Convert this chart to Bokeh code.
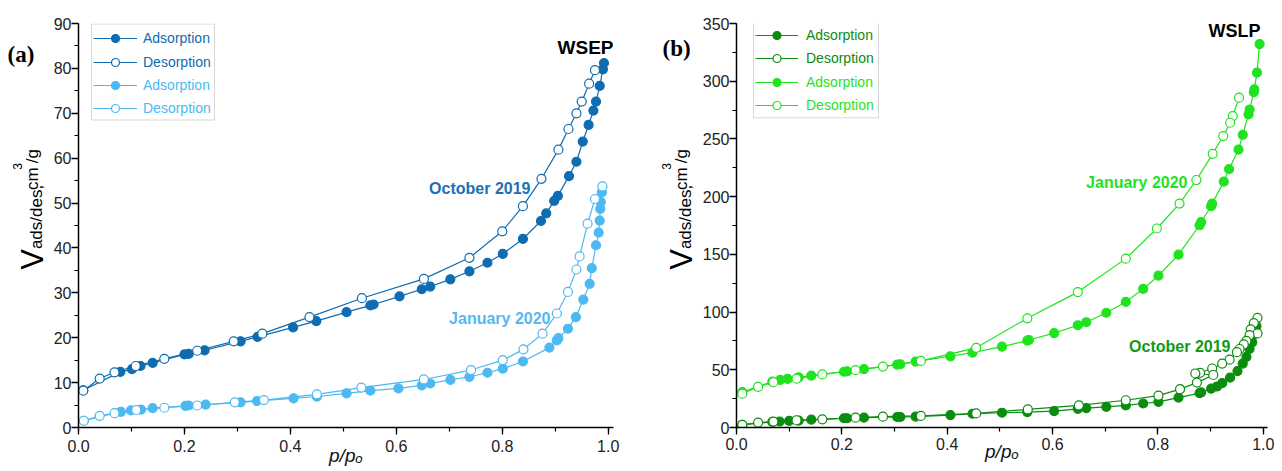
from math import pi
from bokeh.plotting import figure
from bokeh.models import (Range1d, SingleIntervalTicker, PrintfTickFormatter, Label,
                          Legend, LegendItem, BoxAnnotation)
from bokeh.core.properties import value
from bokeh.layouts import row
from bokeh.embed import file_html
from bokeh.resources import INLINE

FONT = "Liberation Sans"

# ---------------- data: panel (a) WSEP ----------------
a_oct_ads_p = [0.009, 0.079, 0.101, 0.117, 0.140, 0.200, 0.208, 0.238, 0.306, 0.338, 0.405, 0.449,
               0.506, 0.551, 0.557, 0.606, 0.648, 0.664, 0.702, 0.738, 0.772, 0.801, 0.839, 0.873,
               0.883, 0.898, 0.905, 0.926, 0.940, 0.952, 0.963, 0.972, 0.977, 0.984, 0.990, 0.992]
a_oct_ads_v = [8.3, 12.4, 13.0, 13.7, 14.4, 16.3, 16.4, 17.2, 19.2, 20.2, 22.3, 23.7,
               25.7, 27.2, 27.4, 29.2, 30.8, 31.4, 33.0, 34.8, 36.7, 38.7, 42.0, 46.0,
               47.7, 50.5, 51.6, 56.0, 59.2, 63.7, 67.4, 70.6, 72.6, 76.1, 79.8, 81.2]
a_oct_des_p = [0.975, 0.964, 0.950, 0.940, 0.925, 0.906, 0.874, 0.839, 0.800, 0.738, 0.652,
               0.535, 0.436, 0.347, 0.293, 0.224, 0.162, 0.108, 0.068, 0.040, 0.009]
a_oct_des_v = [79.6, 76.6, 72.6, 70.0, 66.5, 61.9, 55.4, 49.3, 43.7, 37.8, 33.1,
               28.8, 24.6, 20.9, 19.2, 17.1, 15.3, 13.7, 12.3, 10.9, 8.2]
a_jan_ads_p = [0.010, 0.080, 0.099, 0.118, 0.140, 0.202, 0.208, 0.240, 0.306, 0.337, 0.406, 0.450,
               0.506, 0.551, 0.604, 0.648, 0.664, 0.702, 0.738, 0.772, 0.801, 0.839, 0.889, 0.903,
               0.906, 0.924, 0.939, 0.953, 0.965, 0.969, 0.977, 0.982, 0.984, 0.985, 0.986, 0.988]
a_jan_ads_v = [1.5, 3.5, 3.8, 4.0, 4.3, 4.8, 4.9, 5.1, 5.6, 5.9, 6.5, 6.9,
               7.6, 8.2, 8.7, 9.4, 9.8, 10.6, 11.3, 12.2, 13.1, 14.7, 17.8, 19.4,
               19.9, 22.0, 24.6, 28.5, 32.0, 35.5, 40.6, 43.4, 46.1, 48.7, 50.2, 52.4]
a_jan_des_p = [0.989, 0.975, 0.961, 0.946, 0.940, 0.924, 0.903, 0.876, 0.840, 0.801, 0.741,
               0.652, 0.534, 0.450, 0.350, 0.295, 0.224, 0.162, 0.109, 0.068, 0.040, 0.010]
a_jan_des_v = [53.7, 50.9, 45.4, 38.1, 35.2, 30.2, 25.4, 20.9, 17.4, 15.0, 12.8,
               10.7, 8.9, 7.4, 6.1, 5.6, 4.9, 4.4, 3.9, 3.2, 2.6, 1.5]

# ---------------- data: panel (b) WSLP ----------------
b_jan_ads_p = [0.011, 0.068, 0.083, 0.097, 0.118, 0.142, 0.204, 0.210, 0.242, 0.305, 0.311, 0.340,
               0.406, 0.448, 0.504, 0.552, 0.555, 0.603, 0.648, 0.664, 0.702, 0.739, 0.772, 0.801,
               0.839, 0.879, 0.882, 0.901, 0.903, 0.925, 0.935, 0.953, 0.961, 0.972, 0.974, 0.982,
               0.983, 0.988, 0.993]
b_jan_ads_v = [30.7, 39.8, 41.2, 42.1, 43.5, 44.9, 48.3, 48.6, 50.6, 54.5, 54.8, 57.1,
               61.7, 64.8, 70.0, 75.3, 75.8, 81.8, 88.6, 91.2, 99.4, 108.8, 120.1, 131.5,
               149.7, 175.2, 178.0, 191.7, 194.0, 213.0, 223.8, 240.8, 253.6, 271.2, 275.5, 290.5,
               293.0, 307.5, 332.2]
b_jan_des_p = [0.954, 0.942, 0.937, 0.924, 0.904, 0.873, 0.841, 0.798, 0.739, 0.648, 0.552,
               0.455, 0.350, 0.278, 0.226, 0.163, 0.114, 0.070, 0.041, 0.011]
b_jan_des_v = [285.7, 269.8, 264.0, 252.5, 237.1, 214.4, 194.0, 172.4, 146.3, 117.3, 94.6,
               69.0, 57.7, 52.8, 49.7, 46.0, 42.3, 39.2, 35.2, 29.3]
b_oct_ads_p = [0.011, 0.068, 0.082, 0.100, 0.118, 0.142, 0.204, 0.210, 0.242, 0.305, 0.311, 0.340,
               0.406, 0.448, 0.504, 0.552, 0.603, 0.648, 0.664, 0.702, 0.739, 0.772, 0.801, 0.839,
               0.879, 0.882, 0.901, 0.912, 0.922, 0.937, 0.951, 0.961, 0.968, 0.974, 0.979, 0.983,
               0.987]
b_oct_ads_v = [2.3, 4.9, 5.2, 5.8, 6.0, 6.8, 8.0, 8.0, 8.5, 9.1, 9.1, 9.4,
               10.8, 11.9, 12.8, 13.4, 14.2, 16.2, 16.8, 17.9, 19.1, 20.8, 22.2, 25.9,
               29.8, 30.5, 33.6, 35.5, 38.4, 43.2, 48.9, 55.4, 61.1, 68.1, 73.8, 80.9,
               88.0]
b_oct_des_p = [0.989, 0.982, 0.976, 0.989, 0.974, 0.968, 0.963, 0.955, 0.950, 0.936, 0.922,
               0.903, 0.880, 0.871, 0.905, 0.874, 0.842, 0.801, 0.739, 0.650, 0.553, 0.455,
               0.350, 0.278, 0.226, 0.163, 0.114, 0.070, 0.041, 0.011]
b_oct_des_v = [95.0, 90.5, 85.0, 81.5, 80.0, 75.0, 72.0, 68.0, 65.3, 58.8, 55.4,
               51.1, 47.4, 46.8, 45.5, 38.9, 33.2, 27.6, 23.6, 19.1, 15.7, 12.2,
               10.0, 9.4, 8.5, 7.1, 6.3, 5.1, 4.3, 2.3]

legend_labels = ["Adsorption", "Desorption", "Adsorption", "Desorption"]
x_label = "p/p\u2092"
x_ticks_interval = 0.2

A_DARK = "#0e6cb0"
A_LIGHT = "#4db9f2"
B_DARK = "#0b8c0f"
B_BRIGHT = "#1fe31f"

H = 471


def make_panel(width, left, right, top, bottom, xmax, ymax, yint, tick_standoff, lab_standoff,
               ytick_standoff):
    p = figure(width=width, height=H, output_backend="svg", toolbar_location=None,
               x_range=Range1d(0, xmax), y_range=Range1d(0, ymax),
               min_border_left=left, min_border_right=right,
               min_border_top=top, min_border_bottom=bottom)
    p.outline_line_color = None
    p.xgrid.visible = False
    p.ygrid.visible = False
    p.background_fill_color = "white"
    p.border_fill_color = "white"
    p.xaxis.ticker = SingleIntervalTicker(interval=x_ticks_interval, num_minor_ticks=2)
    p.yaxis.ticker = SingleIntervalTicker(interval=yint, num_minor_ticks=2)
    p.xaxis.formatter = PrintfTickFormatter(format="%.1f")
    for ax in (p.xaxis[0], p.yaxis[0]):
        ax.axis_line_color = "black"
        ax.axis_line_width = 1.5
        ax.major_tick_line_color = "black"
        ax.major_tick_line_width = 1.3
        ax.minor_tick_line_color = "black"
        ax.minor_tick_line_width = 1.2
        ax.major_tick_in = 0
        ax.major_tick_out = 7
        ax.minor_tick_in = 0
        ax.minor_tick_out = 4
        ax.major_label_text_font = FONT
        ax.major_label_text_font_size = "16px"
        ax.major_label_text_color = "#222222"
    p.xaxis.major_label_standoff = tick_standoff
    p.yaxis.major_label_standoff = ytick_standoff
    p.xaxis.axis_label = x_label
    p.xaxis.axis_label_text_font = FONT
    p.xaxis.axis_label_text_font_style = "italic"
    p.xaxis.axis_label_text_font_size = "19px"
    p.xaxis.axis_label_text_color = "#111111"
    p.xaxis.axis_label_standoff = lab_standoff
    return p


def make_strip(width):
    s = figure(width=width, height=H, output_backend="svg", toolbar_location=None,
               x_range=Range1d(0, width), y_range=Range1d(0, H),
               x_axis_location=None, y_axis_location=None,
               min_border_left=0, min_border_right=0, min_border_top=0, min_border_bottom=0)
    s.outline_line_color = None
    s.grid.visible = False
    s.background_fill_color = "white"
    s.border_fill_color = "white"
    return s


def series(p, xs, ys, color, filled):
    ln = p.line(xs, ys, line_color=color, line_width=1.2)
    sc = p.scatter(xs, ys, marker="circle", size=9, line_color=color, line_width=1.2,
                   fill_color=color if filled else "white")
    return [ln, sc]


def add_legend(p, renderers, text, color, x, y, gw, standoff):
    lg = Legend(items=[LegendItem(label=value(text), renderers=renderers)], location=(x, y),
                glyph_width=gw, glyph_height=20, label_height=20, label_width=20,
                padding=0, margin=0, spacing=0, label_standoff=standoff,
                label_text_font=FONT, label_text_font_size="14px", label_text_color=color,
                border_line_alpha=0, background_fill_alpha=0)
    p.add_layout(lg)


def lab(p, text, x, y, size, color="black", style="normal", font=FONT, align="left",
        angle=0.0, baseline="alphabetic", units="screen"):
    p.add_layout(Label(x=x, y=y, x_units=units, y_units=units, text=text,
                       text_font=font, text_font_size=f"{size}px", text_color=color,
                       text_font_style=style, text_align=align, text_baseline=baseline,
                       angle=angle))


def ylabel(s, bx, y0):
    lab(s, "V", bx, y0, 31, angle=pi / 2, units="data")
    lab(s, "ads/des,", bx + 3.5, y0 + 24, 17, angle=pi / 2, units="data")
    lab(s, "cm", bx, y0 + 93, 17, angle=pi / 2, units="data")
    lab(s, "3", bx - 15, y0 + 116.5, 12, angle=pi / 2, units="data")
    lab(s, "/g", bx, y0 + 124, 17, angle=pi / 2, units="data")


# ---------------- panel (a) ----------------
sa = make_strip(49)
lab(sa, "(a)", 7, 435, 23, style="bold", font="Liberation Serif", units="data")
ylabel(sa, 32, 184)

pa = make_panel(591, 29, 27, 23, 44, 1.01, 90, 10, 5, -10, 0)
ra1 = series(pa, a_oct_ads_p, a_oct_ads_v, A_DARK, True)
ra2 = series(pa, a_oct_des_p, a_oct_des_v, A_DARK, False)
ra3 = series(pa, a_jan_ads_p, a_jan_ads_v, A_LIGHT, True)
ra4 = series(pa, a_jan_des_p, a_jan_des_v, A_LIGHT, False)

pa.add_layout(BoxAnnotation(left=13, right=136, top=403.5, bottom=307.5,
                            left_units="screen", right_units="screen",
                            top_units="screen", bottom_units="screen",
                            fill_alpha=0, line_color="#7a7a7a", line_width=1))
for i, (r, c) in enumerate(zip([ra1, ra2, ra3, ra4], [A_DARK, A_DARK, A_LIGHT, A_LIGHT])):
    add_legend(pa, r, legend_labels[i], c, 15, [379.5, 355.5, 332.5, 309.5][i], 44, 6)

lab(pa, "WSEP", 535, 380, 19, style="bold", align="right")
lab(pa, "October 2019", 452, 239, 16, color="#1a6fb5", style="bold", align="right")
lab(pa, "January 2020", 472, 109, 16, color="#55b9ee", style="bold", align="right")

# ---------------- panel (b) ----------------
sb = make_strip(58)
lab(sb, "(b)", 22, 442, 23, style="bold", font="Liberation Serif", units="data")
ylabel(sb, 41, 184)

pb = make_panel(584, 38, 15, 21, 39, 1.008, 350, 50, 3, -12, 0)
rb1 = series(pb, b_oct_ads_p, b_oct_ads_v, B_DARK, True)
rb2 = series(pb, b_oct_des_p, b_oct_des_v, B_DARK, False)
rb3 = series(pb, b_jan_ads_p, b_jan_ads_v, B_BRIGHT, True)
rb4 = series(pb, b_jan_des_p, b_jan_des_v, B_BRIGHT, False)

pb.add_layout(BoxAnnotation(left=17, right=142, top=406.7, bottom=309.7,
                            left_units="screen", right_units="screen",
                            top_units="screen", bottom_units="screen",
                            fill_alpha=0, line_color="#7a7a7a", line_width=1))
for i, (r, c) in enumerate(zip([rb1, rb2, rb3, rb4], [B_DARK, B_DARK, B_BRIGHT, B_BRIGHT])):
    add_legend(pb, r, legend_labels[i], c, 19, [381.7, 358.7, 334.7, 311.7][i], 43, 8)

lab(pb, "WSLP", 524, 397, 18, style="bold", align="right")
lab(pb, "January 2020", 451, 245, 16, color=B_BRIGHT, style="bold", align="right")
lab(pb, "October 2019", 494, 81, 16, color="#109a18", style="bold", align="right")

layout = row(sa, pa, sb, pb)
open("out.html", "w").write(file_html(layout, INLINE))
